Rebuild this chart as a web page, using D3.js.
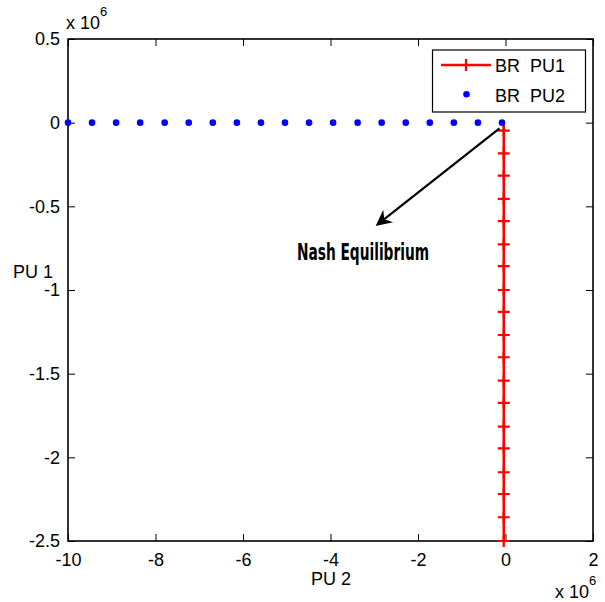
<!DOCTYPE html>
<html><head><meta charset="utf-8">
<script src="https://cdn.jsdelivr.net/npm/d3@7"></script>
<style>body{margin:0;background:#fff}svg{display:block}text{font-family:"Liberation Sans",Arial,sans-serif}</style>
</head><body><svg id="c" width="605" height="602"></svg>
<script>
// Data (units of 1e6)
const bluePU2X = [-10,-9.45,-8.90,-8.35,-7.79,-7.24,-6.69,-6.14,-5.59,-5.04,-4.49,-3.94,-3.38,-2.83,-2.28,-1.73,-1.18,-0.63,-0.08];
const bluePU2Y = bluePU2X.map(()=>0);
const redPU1Y = [-0.048,-0.183,-0.317,-0.456,-0.588,-0.727,-0.857,-1.0,-1.131,-1.269,-1.402,-1.542,-1.674,-1.817,-1.946,-2.089,-2.219,-2.358,-2.5];
const redPU1X = redPU1Y.map(()=>-0.04);
const xTicks = [-10,-8,-6,-4,-2,0,2];
const yTicks = [0.5,0,-0.5,-1,-1.5,-2,-2.5];
const legendLabels = ["BR  PU1","BR  PU2"];
const arrowFrom = [-0.137,-0.034], arrowTo = [-2.968,-0.6175];
const annotation = "Nash Equilibrium";

const svg = d3.select("#c");
const L=68,R=593,T=39,B=541;
const x = d3.scaleLinear().domain([-10,2]).range([L,R]);
const y = d3.scaleLinear().domain([-2.5,0.5]).range([B,T]);
const fs = 18;

// axes
const gx = svg.append("g").attr("transform",`translate(0,${B})`)
  .call(d3.axisBottom(x).tickValues(xTicks).tickSize(-7).tickPadding(15).tickFormat(d=>String(d)));
const gxt = svg.append("g").attr("transform",`translate(0,${T})`)
  .call(d3.axisTop(x).tickValues(xTicks).tickSize(-7).tickFormat(""));
const gy = svg.append("g").attr("transform",`translate(${L},0)`)
  .call(d3.axisLeft(y).tickValues(yTicks).tickSize(-7).tickPadding(10).tickFormat(d=>String(d)));
const gyr = svg.append("g").attr("transform",`translate(${R},0)`)
  .call(d3.axisRight(y).tickValues(yTicks).tickSize(-7).tickFormat(""));
[gx,gxt,gy,gyr].forEach(g=>{
  g.select(".domain").remove();
  g.selectAll("line").attr("stroke","#000").attr("stroke-width",1);
  g.selectAll("text").attr("fill","#000").style("font-size",fs+"px");
});
gx.selectAll("text").attr("dy","0.55em");
gy.selectAll("text").attr("dx","2px");
svg.append("rect").attr("x",L).attr("y",T).attr("width",R-L).attr("height",B-T)
  .attr("fill","none").attr("stroke","#000").attr("stroke-width",1.6);

// exponent labels
function expo(xp,yp){
  const t = svg.append("text").attr("x",xp).attr("y",yp).style("font-size","18px").attr("fill","#000");
  t.append("tspan").text("x 10");
  t.append("tspan").attr("dy",-13).attr("dx",0).style("font-size","13px").text("6");
}
expo(66,29);
expo(555,598);

// axis labels
svg.append("text").attr("x",331).attr("y",585).attr("text-anchor","middle").style("font-size",fs+"px").text("PU 2");
svg.append("text").attr("x",13).attr("y",278).style("font-size",fs+"px").text("PU 1");

// red series
const red = redPU1X.map((v,i)=>[v,redPU1Y[i]]);
svg.append("path").datum(red)
  .attr("d",d3.line().x(d=>x(d[0])).y(d=>y(d[1])))
  .attr("fill","none").attr("stroke","#ff0000").attr("stroke-width",2.5);
svg.append("line").attr("x1",x(red[0][0])).attr("x2",x(red[0][0]))
  .attr("y1",y(0)).attr("y2",y(red[0][1])).attr("stroke","#ff0000").attr("stroke-width",2.5);
const crossPath = s=>`M${-s},0H${s}M0,${-s}V${s}`;
svg.append("g").selectAll("path").data(red).join("path")
  .attr("transform",d=>`translate(${x(d[0])},${y(d[1])})`)
  .attr("d",crossPath(6)).attr("stroke","#ff0000").attr("stroke-width",2.2).attr("fill","none");

// blue series
const blue = bluePU2X.map((v,i)=>[v,bluePU2Y[i]]);
svg.append("g").selectAll("circle").data(blue).join("circle")
  .attr("cx",d=>x(d[0])).attr("cy",d=>y(d[1])).attr("r",3.3).attr("fill","#0000ff");

// arrow annotation
const ax1=x(arrowFrom[0]), ay1=y(arrowFrom[1]), ax2=x(arrowTo[0]), ay2=y(arrowTo[1]);
const ang = Math.atan2(ay2-ay1, ax2-ax1);
const hl=16, hw=8, back=11;
svg.append("line").attr("x1",ax1).attr("y1",ay1)
  .attr("x2",ax2-Math.cos(ang)*back).attr("y2",ay2-Math.sin(ang)*back)
  .attr("stroke","#000").attr("stroke-width",2.2);
const c=Math.cos(ang), s=Math.sin(ang);
const pt=(u,v)=>[ax2+u*c-v*s, ay2+u*s+v*c];
const head=[pt(0,0),pt(-hl,-hw),pt(-back,0),pt(-hl,hw)];
svg.append("path").attr("d","M"+head.map(p=>p.join(",")).join("L")+"Z").attr("fill","#000");

svg.append("text").attr("x",297).attr("y",260)
  .attr("textLength",132).attr("lengthAdjust","spacingAndGlyphs")
  .style("font-family","'DejaVu Sans Condensed','DejaVu Sans',sans-serif")
  .style("font-weight","bold").style("font-size","23px").text(annotation);

// legend
const lg = svg.append("g");
lg.append("rect").attr("x",432.5).attr("y",50).attr("width",153).attr("height",62)
  .attr("fill","#fff").attr("stroke","#000").attr("stroke-width",1.2);
lg.append("line").attr("x1",441).attr("x2",491).attr("y1",65).attr("y2",65).attr("stroke","#ff0000").attr("stroke-width",2.5);
lg.append("path").attr("transform","translate(466,65)").attr("d",crossPath(6)).attr("stroke","#ff0000").attr("stroke-width",2.2);
lg.append("circle").attr("cx",466.5).attr("cy",94.3).attr("r",3.3).attr("fill","#0000ff");
lg.selectAll("text").data(legendLabels).join("text")
  .attr("x",495).attr("y",(d,i)=>72.3+i*29.4).style("font-size",fs+"px").attr("fill","#000").attr("xml:space","preserve")
  .style("white-space","pre").text(d=>d);
</script></body></html>
